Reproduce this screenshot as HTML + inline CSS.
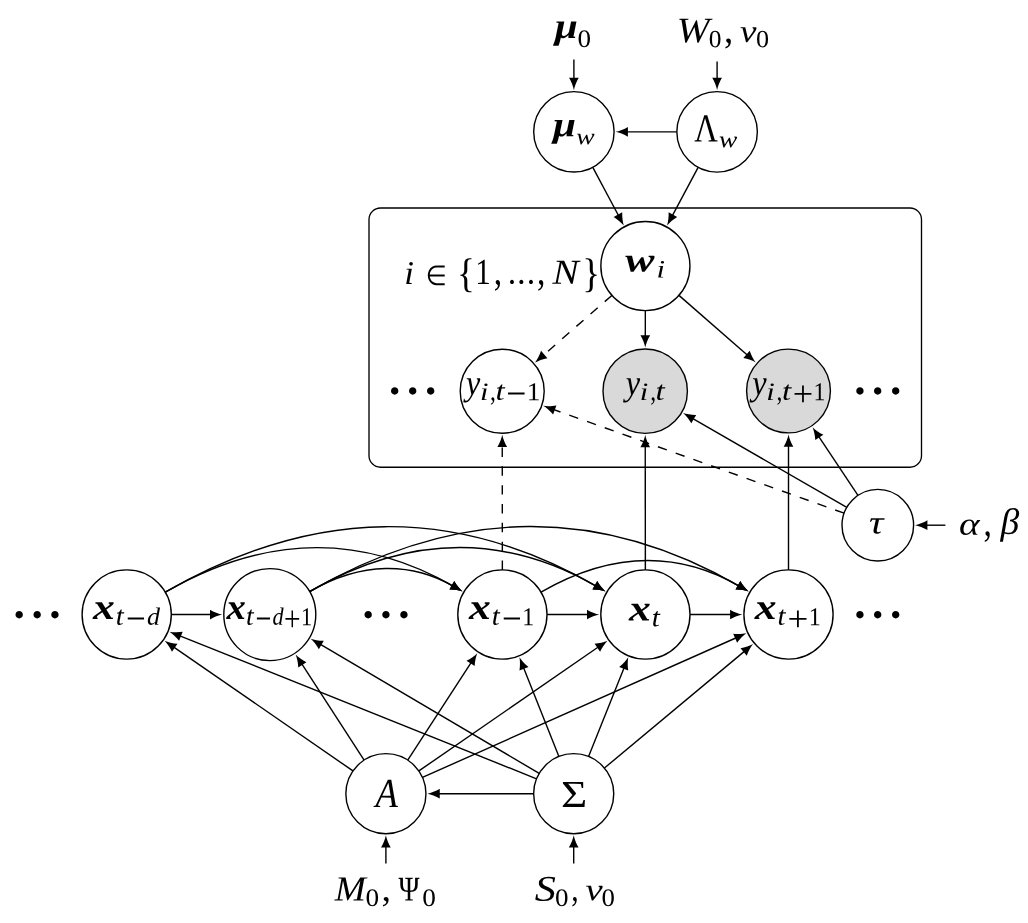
<!DOCTYPE html>
<html><head><meta charset="utf-8"><title>Graphical model</title>
<style>
html,body{margin:0;padding:0;background:#fff;}
body{width:1028px;height:923px;overflow:hidden;}
svg{display:block;will-change:transform;}
text{font-family:"Liberation Serif","DejaVu Serif",serif;font-size:40px;fill:#000;stroke:none;}

.i{font-style:italic;}
.b{font-style:italic;font-weight:bold;}
.r{font-style:normal;}
.s{font-family:"DejaVu Sans",sans-serif;font-style:normal;}
#nodes circle{stroke:#000;stroke-width:1.4;}
#edges line,#edges path{stroke:#000;stroke-width:1.4;fill:none;}
#heads path{fill:#000;}
.d{stroke:none;}
</style></head><body>
<svg width="1028" height="923" viewBox="0 0 1028 923">
<rect width="1028" height="923" fill="#fff"/>
<rect x="369.0" y="208.0" width="552.5" height="259.2" rx="11.5" ry="11.5" fill="none" stroke="#000" stroke-width="1.35"/>
<g id="nodes">
<circle cx="573.9" cy="131.85" r="40.2" fill="#fff"/>
<circle cx="717.1" cy="131.85" r="40.25" fill="#fff"/>
<circle cx="645.4" cy="266.1" r="44.55" fill="#fff"/>
<circle cx="502.2" cy="391.2" r="42.0" fill="#fff"/>
<circle cx="645.2" cy="391.2" r="42.2" fill="#d9d9d9"/>
<circle cx="788.5" cy="391.0" r="41.9" fill="#d9d9d9"/>
<circle cx="877.8" cy="525.2" r="35.8" fill="#fff"/>
<circle cx="126.7" cy="614.5" r="44.6" fill="#fff"/>
<circle cx="269.8" cy="614.6" r="46.0" fill="#fff"/>
<circle cx="502.4" cy="614.5" r="44.6" fill="#fff"/>
<circle cx="645.4" cy="614.5" r="44.6" fill="#fff"/>
<circle cx="788.5" cy="614.5" r="44.6" fill="#fff"/>
<circle cx="385.9" cy="793.7" r="40.05" fill="#fff"/>
<circle cx="573.7" cy="793.7" r="40.05" fill="#fff"/>
</g>
<g id="edges">
<line x1="676.85" y1="131.85" x2="625.44" y2="131.85"/>
<line x1="592.80" y1="167.33" x2="619.13" y2="216.77"/>
<line x1="698.14" y1="167.35" x2="671.73" y2="216.80"/>
<line x1="611.85" y1="295.41" x2="542.37" y2="356.11" stroke-dasharray="9.45 9.37"/>
<line x1="645.33" y1="310.65" x2="645.29" y2="337.66"/>
<line x1="678.96" y1="295.39" x2="748.39" y2="355.99"/>
<line x1="844.08" y1="513.17" x2="552.44" y2="409.12" stroke-dasharray="9.45 9.37"/>
<line x1="846.78" y1="507.33" x2="691.59" y2="417.93"/>
<line x1="857.97" y1="495.40" x2="817.99" y2="435.32"/>
<line x1="502.36" y1="569.90" x2="502.25" y2="444.54" stroke-dasharray="9.45 9.37"/>
<line x1="645.36" y1="569.90" x2="645.25" y2="444.74"/>
<line x1="788.50" y1="569.90" x2="788.50" y2="444.24"/>
<line x1="171.30" y1="614.53" x2="212.46" y2="614.56"/>
<line x1="547.00" y1="614.50" x2="589.46" y2="614.50"/>
<line x1="690.00" y1="614.50" x2="732.56" y2="614.50"/>
<line x1="352.96" y1="770.92" x2="172.71" y2="646.31"/>
<line x1="364.11" y1="760.09" x2="300.99" y2="662.71"/>
<line x1="407.73" y1="760.12" x2="471.91" y2="661.40"/>
<line x1="418.86" y1="770.94" x2="599.37" y2="646.29"/>
<line x1="422.49" y1="777.41" x2="737.39" y2="637.25"/>
<line x1="536.53" y1="778.80" x2="178.62" y2="635.32"/>
<line x1="539.20" y1="773.37" x2="319.20" y2="643.71"/>
<line x1="558.89" y1="756.49" x2="523.08" y2="666.48"/>
<line x1="588.58" y1="756.52" x2="624.62" y2="666.44"/>
<line x1="604.45" y1="768.04" x2="745.55" y2="650.34"/>
<line x1="533.65" y1="793.70" x2="437.29" y2="793.70"/>
<path d="M165.32,592.20 C266.51,533.78 362.59,533.78 453.95,586.53"/>
<path d="M165.32,592.20 C315.00,505.79 457.10,505.79 596.95,586.53"/>
<path d="M309.63,591.58 C361.88,561.39 411.49,562.07 453.94,586.55"/>
<path d="M309.63,591.59 C410.36,533.40 506.01,534.07 596.95,586.54"/>
<path d="M309.63,591.59 C458.88,505.39 600.59,506.06 740.05,586.54"/>
<path d="M541.02,592.20 C611.84,551.32 679.06,551.32 740.05,586.53"/>
<line x1="573.90" y1="59.60" x2="573.90" y2="80.31"/>
<line x1="717.10" y1="61.40" x2="717.10" y2="80.26"/>
<line x1="945.40" y1="525.20" x2="924.94" y2="525.20"/>
<line x1="385.90" y1="863.40" x2="385.90" y2="845.09"/>
<line x1="573.70" y1="863.40" x2="573.70" y2="845.09"/>
</g>
<g id="heads">
<path d="M9,0 C6.3333,0.5 2,2.1 -1,3.95 L-1,-3.95 C2,-2.1 6.3333,-0.5 9,0 Z" transform="translate(615.60,131.85) rotate(180.00) scale(1.23) translate(-9,0)"/>
<path d="M9,0 C6.3333,0.5 2,2.1 -1,3.95 L-1,-3.95 C2,-2.1 6.3333,-0.5 9,0 Z" transform="translate(623.75,225.46) rotate(61.96) scale(1.23) translate(-9,0)"/>
<path d="M9,0 C6.3333,0.5 2,2.1 -1,3.95 L-1,-3.95 C2,-2.1 6.3333,-0.5 9,0 Z" transform="translate(667.09,225.48) rotate(118.11) scale(1.23) translate(-9,0)"/>
<path d="M9,0 C6.3333,0.5 2,2.1 -1,3.95 L-1,-3.95 C2,-2.1 6.3333,-0.5 9,0 Z" transform="translate(534.96,362.58) rotate(138.86) scale(1.23) translate(-9,0)"/>
<path d="M9,0 C6.3333,0.5 2,2.1 -1,3.95 L-1,-3.95 C2,-2.1 6.3333,-0.5 9,0 Z" transform="translate(645.27,347.50) rotate(90.09) scale(1.23) translate(-9,0)"/>
<path d="M9,0 C6.3333,0.5 2,2.1 -1,3.95 L-1,-3.95 C2,-2.1 6.3333,-0.5 9,0 Z" transform="translate(755.80,362.46) rotate(41.11) scale(1.23) translate(-9,0)"/>
<path d="M9,0 C6.3333,0.5 2,2.1 -1,3.95 L-1,-3.95 C2,-2.1 6.3333,-0.5 9,0 Z" transform="translate(543.17,405.82) rotate(-160.37) scale(1.23) translate(-9,0)"/>
<path d="M9,0 C6.3333,0.5 2,2.1 -1,3.95 L-1,-3.95 C2,-2.1 6.3333,-0.5 9,0 Z" transform="translate(683.07,413.01) rotate(-150.05) scale(1.23) translate(-9,0)"/>
<path d="M9,0 C6.3333,0.5 2,2.1 -1,3.95 L-1,-3.95 C2,-2.1 6.3333,-0.5 9,0 Z" transform="translate(812.54,427.13) rotate(-123.64) scale(1.23) translate(-9,0)"/>
<path d="M9,0 C6.3333,0.5 2,2.1 -1,3.95 L-1,-3.95 C2,-2.1 6.3333,-0.5 9,0 Z" transform="translate(502.24,434.70) rotate(-90.05) scale(1.23) translate(-9,0)"/>
<path d="M9,0 C6.3333,0.5 2,2.1 -1,3.95 L-1,-3.95 C2,-2.1 6.3333,-0.5 9,0 Z" transform="translate(645.24,434.90) rotate(-90.05) scale(1.23) translate(-9,0)"/>
<path d="M9,0 C6.3333,0.5 2,2.1 -1,3.95 L-1,-3.95 C2,-2.1 6.3333,-0.5 9,0 Z" transform="translate(788.50,434.40) rotate(-90.00) scale(1.23) translate(-9,0)"/>
<path d="M9,0 C6.3333,0.5 2,2.1 -1,3.95 L-1,-3.95 C2,-2.1 6.3333,-0.5 9,0 Z" transform="translate(222.30,614.57) rotate(0.04) scale(1.23) translate(-9,0)"/>
<path d="M9,0 C6.3333,0.5 2,2.1 -1,3.95 L-1,-3.95 C2,-2.1 6.3333,-0.5 9,0 Z" transform="translate(599.30,614.50) rotate(0.00) scale(1.23) translate(-9,0)"/>
<path d="M9,0 C6.3333,0.5 2,2.1 -1,3.95 L-1,-3.95 C2,-2.1 6.3333,-0.5 9,0 Z" transform="translate(742.40,614.50) rotate(0.00) scale(1.23) translate(-9,0)"/>
<path d="M9,0 C6.3333,0.5 2,2.1 -1,3.95 L-1,-3.95 C2,-2.1 6.3333,-0.5 9,0 Z" transform="translate(164.62,640.72) rotate(-145.34) scale(1.23) translate(-9,0)"/>
<path d="M9,0 C6.3333,0.5 2,2.1 -1,3.95 L-1,-3.95 C2,-2.1 6.3333,-0.5 9,0 Z" transform="translate(295.64,654.46) rotate(-122.95) scale(1.23) translate(-9,0)"/>
<path d="M9,0 C6.3333,0.5 2,2.1 -1,3.95 L-1,-3.95 C2,-2.1 6.3333,-0.5 9,0 Z" transform="translate(477.27,653.15) rotate(-56.97) scale(1.23) translate(-9,0)"/>
<path d="M9,0 C6.3333,0.5 2,2.1 -1,3.95 L-1,-3.95 C2,-2.1 6.3333,-0.5 9,0 Z" transform="translate(607.47,640.70) rotate(-34.63) scale(1.23) translate(-9,0)"/>
<path d="M9,0 C6.3333,0.5 2,2.1 -1,3.95 L-1,-3.95 C2,-2.1 6.3333,-0.5 9,0 Z" transform="translate(746.38,633.25) rotate(-23.99) scale(1.23) translate(-9,0)"/>
<path d="M9,0 C6.3333,0.5 2,2.1 -1,3.95 L-1,-3.95 C2,-2.1 6.3333,-0.5 9,0 Z" transform="translate(169.49,631.65) rotate(-158.15) scale(1.23) translate(-9,0)"/>
<path d="M9,0 C6.3333,0.5 2,2.1 -1,3.95 L-1,-3.95 C2,-2.1 6.3333,-0.5 9,0 Z" transform="translate(310.72,638.72) rotate(-149.49) scale(1.23) translate(-9,0)"/>
<path d="M9,0 C6.3333,0.5 2,2.1 -1,3.95 L-1,-3.95 C2,-2.1 6.3333,-0.5 9,0 Z" transform="translate(519.44,657.33) rotate(-111.70) scale(1.23) translate(-9,0)"/>
<path d="M9,0 C6.3333,0.5 2,2.1 -1,3.95 L-1,-3.95 C2,-2.1 6.3333,-0.5 9,0 Z" transform="translate(628.27,657.30) rotate(-68.19) scale(1.23) translate(-9,0)"/>
<path d="M9,0 C6.3333,0.5 2,2.1 -1,3.95 L-1,-3.95 C2,-2.1 6.3333,-0.5 9,0 Z" transform="translate(753.10,644.03) rotate(-39.84) scale(1.23) translate(-9,0)"/>
<path d="M9,0 C6.3333,0.5 2,2.1 -1,3.95 L-1,-3.95 C2,-2.1 6.3333,-0.5 9,0 Z" transform="translate(427.45,793.70) rotate(180.00) scale(1.23) translate(-9,0)"/>
<path d="M9,0 C6.3333,0.5 2,2.1 -1,3.95 L-1,-3.95 C2,-2.1 6.3333,-0.5 9,0 Z" transform="translate(462.48,591.45) rotate(30.00) scale(1.23) translate(-9,0)"/>
<path d="M9,0 C6.3333,0.5 2,2.1 -1,3.95 L-1,-3.95 C2,-2.1 6.3333,-0.5 9,0 Z" transform="translate(605.48,591.45) rotate(30.00) scale(1.23) translate(-9,0)"/>
<path d="M9,0 C6.3333,0.5 2,2.1 -1,3.95 L-1,-3.95 C2,-2.1 6.3333,-0.5 9,0 Z" transform="translate(462.47,591.47) rotate(29.98) scale(1.23) translate(-9,0)"/>
<path d="M9,0 C6.3333,0.5 2,2.1 -1,3.95 L-1,-3.95 C2,-2.1 6.3333,-0.5 9,0 Z" transform="translate(605.47,591.46) rotate(29.98) scale(1.23) translate(-9,0)"/>
<path d="M9,0 C6.3333,0.5 2,2.1 -1,3.95 L-1,-3.95 C2,-2.1 6.3333,-0.5 9,0 Z" transform="translate(748.57,591.46) rotate(29.99) scale(1.23) translate(-9,0)"/>
<path d="M9,0 C6.3333,0.5 2,2.1 -1,3.95 L-1,-3.95 C2,-2.1 6.3333,-0.5 9,0 Z" transform="translate(748.58,591.45) rotate(30.00) scale(1.23) translate(-9,0)"/>
<path d="M9,0 C6.3333,0.5 2,2.1 -1,3.95 L-1,-3.95 C2,-2.1 6.3333,-0.5 9,0 Z" transform="translate(573.90,90.15) rotate(90.00) scale(1.23) translate(-9,0)"/>
<path d="M9,0 C6.3333,0.5 2,2.1 -1,3.95 L-1,-3.95 C2,-2.1 6.3333,-0.5 9,0 Z" transform="translate(717.10,90.10) rotate(90.00) scale(1.23) translate(-9,0)"/>
<path d="M9,0 C6.3333,0.5 2,2.1 -1,3.95 L-1,-3.95 C2,-2.1 6.3333,-0.5 9,0 Z" transform="translate(915.10,525.20) rotate(180.00) scale(1.23) translate(-9,0)"/>
<path d="M9,0 C6.3333,0.5 2,2.1 -1,3.95 L-1,-3.95 C2,-2.1 6.3333,-0.5 9,0 Z" transform="translate(385.90,835.25) rotate(-90.00) scale(1.23) translate(-9,0)"/>
<path d="M9,0 C6.3333,0.5 2,2.1 -1,3.95 L-1,-3.95 C2,-2.1 6.3333,-0.5 9,0 Z" transform="translate(573.70,835.25) rotate(-90.00) scale(1.23) translate(-9,0)"/>
</g>
<g id="labels">
<g><text class="b" transform="matrix(1.0381 0.0005 0.0005 0.9023 554.66 37.92)">μ</text><text class="r" transform="matrix(0.6783 0.0005 0.0005 0.6261 577.57 47.06)">0</text></g>
<g><text class="i" transform="matrix(0.9848 0.0005 0.0005 0.8994 676.70 42.26)">W</text><text class="r" transform="matrix(0.6371 0.0005 0.0005 0.6224 708.73 47.36)">0</text><text class="r" transform="matrix(0.9233 0.0005 0.0005 0.9831 723.99 42.55)">,</text><text class="i" transform="matrix(0.9299 0.0005 0.0005 0.8053 739.89 41.99)">ν</text><text class="r" transform="matrix(0.6547 0.0005 0.0005 0.6224 756.00 47.36)">0</text></g>
<g><text class="b" transform="matrix(1.0337 0.0005 0.0005 0.8819 552.96 136.19)">μ</text><text class="i" transform="matrix(0.6921 0.0005 0.0005 0.5793 576.29 144.37)">w</text></g>
<g><text class="r" transform="matrix(0.8155 0.0005 0.0005 0.9960 694.18 141.60)">Λ</text><text class="i" transform="matrix(0.6882 0.0005 0.0005 0.5793 718.99 147.27)">w</text></g>
<g><text class="b" transform="matrix(1.0942 0.0005 0.0005 0.8640 625.16 271.46)">w</text><text class="i" transform="matrix(0.7662 0.0005 0.0005 0.6280 656.40 277.60)">i</text></g>
<g><text class="i" transform="matrix(0.8742 0.0005 0.0005 0.8326 404.15 284.00)">i</text><text class="s" transform="matrix(0.6034 0.0005 0.0005 0.6912 425.84 284.93)">∈</text><text class="r" transform="matrix(0.9301 0.0005 0.0005 1.0240 457.02 286.72)">{</text><text class="r" transform="matrix(0.7740 0.0005 0.0005 0.9202 475.13 284.05)">1</text><text class="r" transform="matrix(0.8410 0.0005 0.0005 1.0513 493.66 284.32)">,</text><text class="r" transform="matrix(0.8463 0.0005 0.0005 0.8886 507.87 283.60)">.</text><text class="r" transform="matrix(0.8674 0.0005 0.0005 0.8886 517.11 283.60)">.</text><text class="r" transform="matrix(0.8463 0.0005 0.0005 0.8886 526.87 283.60)">.</text><text class="r" transform="matrix(0.8410 0.0005 0.0005 1.0513 537.11 284.32)">,</text><text class="i" transform="matrix(0.9851 0.0005 0.0005 0.8782 552.39 283.80)">N</text><text class="r" transform="matrix(0.9301 0.0005 0.0005 1.0240 582.32 286.72)">}</text></g>
<g><text class="i" transform="matrix(0.8052 0.0005 0.0005 0.9003 465.89 394.63)">y</text><text class="i" transform="matrix(0.7662 0.0005 0.0005 0.6280 479.95 400.00)">i</text><text class="r" transform="matrix(0.5887 0.0005 0.0005 0.7359 490.00 400.36)">,</text><text class="i" transform="matrix(0.8253 0.0005 0.0005 0.6765 495.61 399.74)">t</text><text class="r" transform="matrix(0.8918 0.0005 0.0005 1.0039 506.37 406.78)">−</text><text class="r" transform="matrix(0.6817 0.0005 0.0005 0.6442 526.75 400.25)">1</text></g>
<g><text class="i g" transform="matrix(0.8099 0.0005 0.0005 0.9003 625.80 394.63)">y</text><text class="i g" transform="matrix(0.7662 0.0005 0.0005 0.6280 639.85 400.00)">i</text><text class="r g" transform="matrix(0.5887 0.0005 0.0005 0.7359 650.25 400.36)">,</text><text class="i g" transform="matrix(0.8253 0.0005 0.0005 0.6765 655.51 399.74)">t</text></g>
<g><text class="i g" transform="matrix(0.8099 0.0005 0.0005 0.9003 752.30 394.63)">y</text><text class="i g" transform="matrix(0.7662 0.0005 0.0005 0.6280 766.35 400.00)">i</text><text class="r g" transform="matrix(0.5887 0.0005 0.0005 0.7359 776.45 400.36)">,</text><text class="i g" transform="matrix(0.8253 0.0005 0.0005 0.6765 782.01 399.74)">t</text><text class="r g" transform="matrix(0.9080 0.0005 0.0005 0.9007 792.74 405.66)">+</text><text class="r g" transform="matrix(0.5965 0.0005 0.0005 0.6442 813.45 400.25)">1</text></g>
<g><text class="i" transform="matrix(1.0096 0.0005 0.0005 0.8275 868.97 533.38)">τ</text></g>
<g><text class="i" transform="matrix(0.9820 0.0005 0.0005 0.8049 959.08 534.67)">α</text><text class="r" transform="matrix(0.8410 0.0005 0.0005 1.0513 983.46 535.52)">,</text><text class="i" transform="matrix(0.9411 0.0005 0.0005 0.9215 1000.51 534.05)">β</text></g>
<g><text class="b" transform="matrix(1.0917 0.0005 0.0005 0.9096 92.98 619.10)">x</text><text class="i" transform="matrix(0.7188 0.0005 0.0005 0.6765 115.69 624.74)">t</text><text class="r" transform="matrix(0.8757 0.0005 0.0005 1.0039 126.01 631.78)">−</text><text class="i" transform="matrix(0.6513 0.0005 0.0005 0.6210 147.06 624.75)">d</text></g>
<g><text class="b" transform="matrix(0.9686 0.0005 0.0005 0.9096 226.62 619.10)">x</text><text class="i" transform="matrix(0.6892 0.0005 0.0005 0.6765 246.04 624.74)">t</text><text class="r" transform="matrix(0.7038 0.0005 0.0005 1.0039 255.45 631.78)">−</text><text class="i" transform="matrix(0.5559 0.0005 0.0005 0.6210 272.48 624.75)">d</text><text class="r" transform="matrix(0.7360 0.0005 0.0005 0.9007 283.98 630.66)">+</text><text class="r" transform="matrix(0.5610 0.0005 0.0005 0.6442 300.98 625.25)">1</text></g>
<g><text class="b" transform="matrix(1.0917 0.0005 0.0005 0.9096 468.98 619.10)">x</text><text class="i" transform="matrix(0.7188 0.0005 0.0005 0.6765 491.69 624.74)">t</text><text class="r" transform="matrix(0.8757 0.0005 0.0005 1.0039 502.01 631.78)">−</text><text class="r" transform="matrix(0.5965 0.0005 0.0005 0.6442 522.35 625.25)">1</text></g>
<g><text class="b" transform="matrix(1.0917 0.0005 0.0005 0.9096 628.88 620.60)">x</text><text class="i" transform="matrix(0.7286 0.0005 0.0005 0.6765 651.77 626.34)">t</text></g>
<g><text class="b" transform="matrix(1.0917 0.0005 0.0005 0.9096 754.78 619.10)">x</text><text class="i" transform="matrix(0.7188 0.0005 0.0005 0.6765 777.49 624.74)">t</text><text class="r" transform="matrix(0.9241 0.0005 0.0005 0.9007 787.41 630.66)">+</text><text class="r" transform="matrix(0.6036 0.0005 0.0005 0.6442 808.73 625.25)">1</text></g>
<g><text class="i" transform="matrix(0.9156 0.0005 0.0005 1.0301 375.60 807.10)">A</text></g>
<g><text class="r" transform="matrix(1.1265 0.0005 0.0005 0.9660 560.94 806.70)">Σ</text></g>
<g><text class="i" transform="matrix(0.9347 0.0005 0.0005 0.8820 334.64 900.50)">M</text><text class="r" transform="matrix(0.6842 0.0005 0.0005 0.6261 365.46 906.06)">0</text><text class="r" transform="matrix(0.9569 0.0005 0.0005 0.9247 381.44 900.81)">,</text><text class="r" transform="matrix(0.7134 0.0005 0.0005 0.8667 398.62 900.50)">Ψ</text><text class="r" transform="matrix(0.6842 0.0005 0.0005 0.6261 422.36 906.06)">0</text></g>
<g><text class="i" transform="matrix(1.0589 0.0005 0.0005 0.9079 534.70 900.85)">S</text><text class="r" transform="matrix(0.6783 0.0005 0.0005 0.6261 555.07 906.06)">0</text><text class="r" transform="matrix(0.7398 0.0005 0.0005 0.9247 571.27 900.81)">,</text><text class="i" transform="matrix(0.9695 0.0005 0.0005 0.7947 585.38 900.19)">ν</text><text class="r" transform="matrix(0.6724 0.0005 0.0005 0.6261 601.58 906.06)">0</text></g>
<g><text class="r d" transform="matrix(0.7780 0.0005 0.0005 0.7764 389.35 401.33)">•</text><text class="r d" transform="matrix(0.7780 0.0005 0.0005 0.7764 407.25 401.33)">•</text><text class="r d" transform="matrix(0.7780 0.0005 0.0005 0.7764 425.15 401.33)">•</text></g>
<g><text class="r d" transform="matrix(0.7780 0.0005 0.0005 0.7764 854.40 401.33)">•</text><text class="r d" transform="matrix(0.7780 0.0005 0.0005 0.7764 872.30 401.33)">•</text><text class="r d" transform="matrix(0.7780 0.0005 0.0005 0.7764 890.20 401.33)">•</text></g>
<g><text class="r d" transform="matrix(0.7780 0.0005 0.0005 0.7764 13.80 624.98)">•</text><text class="r d" transform="matrix(0.7780 0.0005 0.0005 0.7764 31.70 624.98)">•</text><text class="r d" transform="matrix(0.7780 0.0005 0.0005 0.7764 49.60 624.98)">•</text></g>
<g><text class="r d" transform="matrix(0.7780 0.0005 0.0005 0.7764 362.65 624.98)">•</text><text class="r d" transform="matrix(0.7780 0.0005 0.0005 0.7764 380.55 624.98)">•</text><text class="r d" transform="matrix(0.7780 0.0005 0.0005 0.7764 398.45 624.98)">•</text></g>
<g><text class="r d" transform="matrix(0.7780 0.0005 0.0005 0.7764 854.40 624.98)">•</text><text class="r d" transform="matrix(0.7780 0.0005 0.0005 0.7764 872.30 624.98)">•</text><text class="r d" transform="matrix(0.7780 0.0005 0.0005 0.7764 890.20 624.98)">•</text></g>
</g>
</svg>
</body></html>
